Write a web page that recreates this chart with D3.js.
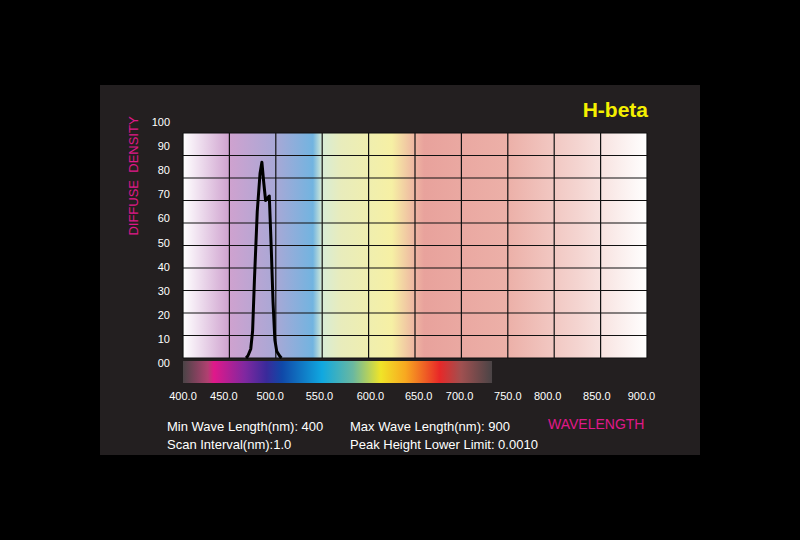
<!DOCTYPE html><html><head><meta charset="utf-8">
<script src="https://d3js.org/d3.v7.min.js"></script>
<style>body{margin:0;background:#000}</style></head><body><script>
const wavelength=[468,470,473,475,477,480,483,485,487,489,491,493,495,497,499,501,504,506];
const density=[0,1,4,12,35,65,82,87,78,70,71,72,50,25,8,3,1,0];
const xTicks=[400,450,500,550,600,650,700,750,800,850,900];
const xTickPos=[400,444,494,547,602,654,698,750,793,846,894];
const yTicks=[0,10,20,30,40,50,60,70,80,90,100];
const yTickLabels=["00","10","20","30","40","50","60","70","80","90","100"];
const plotStops=[[0,"#ffffff"],[0.1,"#cfa2cf"],[0.2,"#a8a8d6"],[0.28,"#72b4e0"],[0.3,"#d8ecd6"],[0.34,"#e8ecbc"],[0.45,"#f6f0a4"],[0.5,"#eeb4a2"],[0.52,"#e8a29c"],[0.7,"#ecb0a8"],[0.85,"#f4d4d0"],[1,"#ffffff"]];
const specStops=[[0,"#4a4446"],[0.08,"#b04070"],[0.1,"#e0188a"],[0.2,"#8028a0"],[0.27,"#3a2a9a"],[0.32,"#1048a8"],[0.45,"#10a8e0"],[0.55,"#6ab8a0"],[0.64,"#f0e428"],[0.72,"#f8a820"],[0.83,"#e82828"],[0.9,"#a05050"],[1,"#4a4446"]];

const svg=d3.select("body").append("svg").attr("width",800).attr("height",540);
svg.append("rect").attr("width",800).attr("height",540).attr("fill","#000");
svg.append("rect").attr("x",100).attr("y",85).attr("width",600).attr("height",370).attr("fill","#231f20");
const x=d3.scaleLinear().domain([400,900]).range([183,647]);
const y=d3.scaleLinear().domain([0,100]).range([358,133]);
const defs=svg.append("defs");
function grad(id,stops){const g=defs.append("linearGradient").attr("id",id);
 stops.forEach(s=>g.append("stop").attr("offset",s[0]).attr("stop-color",s[1]));}
grad("pg",plotStops);grad("sg",specStops);
svg.append("rect").attr("x",x(400)).attr("y",y(100)).attr("width",x(900)-x(400)).attr("height",y(0)-y(100)).attr("fill","url(#pg)");
svg.append("rect").attr("x",x(400)).attr("y",361).attr("width",x(733)-x(400)).attr("height",22).attr("fill","url(#sg)");
const g=svg.append("g").attr("stroke","#111").attr("stroke-width",1.2);
xTicks.forEach(t=>g.append("line").attr("x1",x(t)).attr("x2",x(t)).attr("y1",y(0)).attr("y2",y(100)));
yTicks.forEach(t=>g.append("line").attr("x1",x(400)).attr("x2",x(900)).attr("y1",y(t)).attr("y2",y(t)));
svg.append("path").datum(wavelength.map((w,i)=>[w,density[i]]))
 .attr("d",d3.line().x(d=>x(d[0])).y(d=>y(d[1])))
 .attr("fill","none").attr("stroke","#000").attr("stroke-width",3).attr("stroke-linejoin","round");
const ly=d3.scaleLinear().domain([0,100]).range([367,126]);
yTicks.forEach((t,i)=>svg.append("text").attr("x",170).attr("y",ly(t)).attr("text-anchor","end")
 .attr("fill","#fff").attr("font-family","Liberation Sans").attr("font-size",11).text(yTickLabels[i]));
xTicks.forEach((t,i)=>svg.append("text").attr("x",x(xTickPos[i])).attr("y",400).attr("text-anchor","middle")
 .attr("fill","#fff").attr("font-family","Liberation Sans").attr("font-size",11).text(t.toFixed(1)));
svg.append("text").attr("x",648).attr("y",117).attr("text-anchor","end").attr("fill","#f5f000")
 .attr("font-family","Liberation Sans").attr("font-weight","bold").attr("font-size",21).text("H-beta");
svg.append("text").attr("transform","translate(138,176) rotate(-90)").attr("text-anchor","middle")
 .attr("fill","#e0188a").attr("font-family","Liberation Sans").attr("font-size",13).attr("xml:space","preserve").text("DIFFUSE  DENSITY");
svg.append("text").attr("x",548).attr("y",429).attr("fill","#e0188a").attr("font-family","Liberation Sans").attr("font-size",14).text("WAVELENGTH");
[["Min Wave Length(nm): 400",167,431],["Max Wave Length(nm): 900",350,431],["Scan Interval(nm):1.0",167,449],["Peak Height Lower Limit: 0.0010",350,449]]
 .forEach(d=>svg.append("text").attr("x",d[1]).attr("y",d[2]).attr("fill","#fff").attr("font-family","Liberation Sans").attr("font-size",13).text(d[0]));
</script></body></html>
